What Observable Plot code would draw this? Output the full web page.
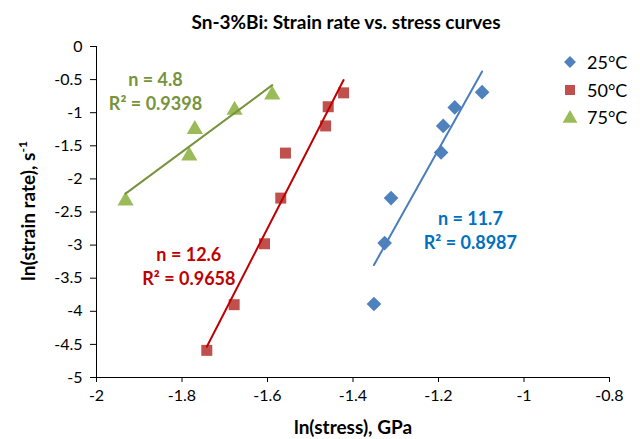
<!DOCTYPE html>
<html><head><meta charset="utf-8">
<script src="https://cdn.jsdelivr.net/npm/d3@7"></script>
<script src="https://cdn.jsdelivr.net/npm/@observablehq/plot@0.6"></script>
<style>
body{margin:0;background:#fff;}
#chart{position:relative;width:640px;height:439px;font-family:Lato,"Open Sans",sans-serif;color:#000;}
#chart svg{position:absolute;left:0;top:0;}
.title{position:absolute;left:346px;top:21px;transform:translate(-50%,-50%);font-weight:bold;font-size:19px;white-space:nowrap;}
.xlabel{position:absolute;left:353px;top:426px;transform:translate(-50%,-50%);font-weight:bold;font-size:19px;white-space:nowrap;}
.ylabel{position:absolute;left:27px;top:211px;transform:translate(-50%,-50%) rotate(-90deg);font-weight:bold;font-size:19px;white-space:nowrap;}
.ylabel sup{font-size:12px;}
.legend{position:absolute;left:562px;top:48px;font-size:18px;}
.legend div{display:flex;align-items:center;height:27.7px;}
.legend svg{position:static !important;margin-right:9px;}
</style></head><body><div id="chart"></div>
<script>
// data
const seriesNames = ["25°C", "50°C", "75°C"];
const lnStress25 = [-1.351, -1.326, -1.311, -1.194, -1.189, -1.162, -1.098];
const lnRate25   = [-3.89, -2.97, -2.29, -1.60, -1.20, -0.92, -0.69];
const lnStress50 = [-1.742, -1.678, -1.607, -1.569, -1.558, -1.464, -1.458, -1.422];
const lnRate50   = [-4.59, -3.90, -2.98, -2.29, -1.61, -1.20, -0.91, -0.70];
const lnStress75 = [-1.932, -1.783, -1.770, -1.677, -1.589];
const lnRate75   = [-2.30, -1.62, -1.22, -0.93, -0.70];
const nLabels  = ["n = 11.7", "n = 12.6", "n = 4.8"];
const r2Labels = ["R² = 0.8987", "R² = 0.9658", "R² = 0.9398"];
const labelStress = [-1.1255, -1.784, -1.862];
const labelRate   = [-2.765, -3.30, -0.665];
const xTicks = [-2, -1.8, -1.6, -1.4, -1.2, -1, -0.8];
const yTicks = [0, -0.5, -1, -1.5, -2, -2.5, -3, -3.5, -4, -4.5, -5];

const fills = ["#4F81BD", "#C0504D", "#9BBB59"];
const lineColors = ["#4A7EBB", "#C00000", "#77933C"];
const textColors = ["#0070C0", "#C00000", "#77933C"];
const symbols = ["diamond2", "square", "triangle"];
const radii = [6.6, 6.2, 6.0];

const sets = [[lnStress25, lnRate25], [lnStress50, lnRate50], [lnStress75, lnRate75]]
  .map(([xs, ys], i) => xs.map((x, j) => ({x, y: ys[j], s: seriesNames[i]})));
const labels = seriesNames.map((s, i) => ({s, x: labelStress[i], y: labelRate[i], text: nLabels[i] + "\n" + r2Labels[i]}));

const marks = [
  Plot.ruleY([-5], {stroke: "#000", strokeWidth: 1}),
  Plot.ruleX([-2], {stroke: "#000", strokeWidth: 1}),
  Plot.axisX({ticks: xTicks, tickSize: 5, tickPadding: 7, tickFormat: d => String(d), label: null, fontSize: 16}),
  Plot.axisY({ticks: yTicks, tickSize: 6, tickPadding: 8, tickFormat: d => String(d), label: null, fontSize: 16})
];
sets.forEach((data, i) => {
  marks.push(Plot.dot(data, {x: "x", y: "y", symbol: () => symbols[i], r: radii[i], fill: fills[i], stroke: "none", dy: i === 2 ? 2 : 0}));
});
sets.forEach((data, i) => {
  marks.push(Plot.linearRegressionY(data, {x: "x", y: "y", ci: 0, stroke: lineColors[i], strokeWidth: 2}));
});
labels.forEach((d, i) => {
  marks.push(Plot.text([d], {x: "x", y: "y", text: "text", fill: textColors[i], fontWeight: "bold", fontSize: 18, lineHeight: 1.33}));
});

const plot = Plot.plot({
  width: 640, height: 439,
  marginTop: 46, marginBottom: 62, marginLeft: 96, marginRight: 31,
  x: {domain: [-2, -0.8]},
  y: {domain: [-5, 0]},
  symbol: {type: "identity"},
  style: {fontFamily: "Lato, 'Open Sans', sans-serif", fontSize: "16px", color: "#000", background: "white"},
  marks
});

const chart = document.getElementById("chart");
chart.appendChild(plot);

const title = document.createElement("div");
title.className = "title"; title.textContent = "Sn-3%Bi: Strain rate vs. stress curves";
chart.appendChild(title);
const xl = document.createElement("div");
xl.className = "xlabel"; xl.textContent = "ln(stress), GPa";
chart.appendChild(xl);
const yl = document.createElement("div");
yl.className = "ylabel"; yl.innerHTML = "ln(strain rate), s<sup>-1</sup>";
chart.appendChild(yl);

const legend = document.createElement("div");
legend.className = "legend";
const legendSym = [d3.symbolDiamond2, d3.symbolSquare, d3.symbolTriangle];
const legendSize = [90, 100, 95];
seriesNames.forEach((name, i) => {
  const row = document.createElement("div");
  const svg = d3.create("svg").attr("width", 16).attr("height", 16);
  svg.append("path").attr("transform", "translate(8," + (i === 2 ? 9.5 : 8) + ")")
    .attr("d", d3.symbol(legendSym[i], legendSize[i])()).attr("fill", fills[i]);
  row.appendChild(svg.node());
  const t = document.createElement("span"); t.textContent = name;
  row.appendChild(t);
  legend.appendChild(row);
});
chart.appendChild(legend);
</script>
</body></html>
